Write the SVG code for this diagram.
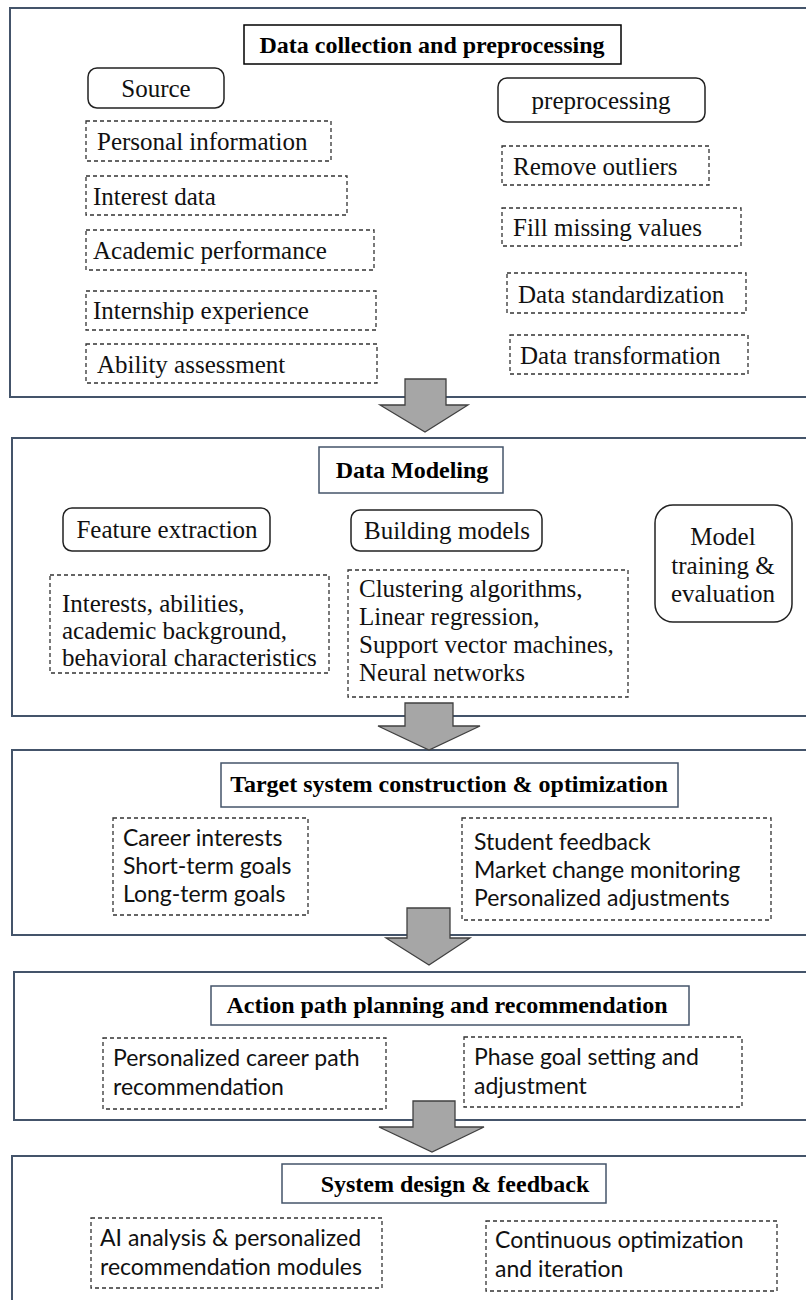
<svg xmlns="http://www.w3.org/2000/svg" width="806" height="1300" viewBox="0 0 806 1300">
<style>
.sec{fill:none;stroke:#44546A;stroke-width:2}
.ttl{fill:#fff;stroke:#44546A;stroke-width:1.5}
.ttl0{fill:#fff;stroke:#000;stroke-width:1.5}
.rnd{fill:#fff;stroke:#222;stroke-width:1.5}
.dsh{fill:#fff;stroke:#333;stroke-width:1.3;stroke-dasharray:4 3}
.arr{fill:#A6A6A6;stroke:#404040;stroke-width:1.3}
.tb{font-family:"Liberation Serif","Times New Roman",serif;font-weight:bold;font-size:24px;fill:#000}
.ts{font-family:"Liberation Serif","Times New Roman",serif;font-size:25px;fill:#111}
.tc{font-family:"Liberation Serif","Times New Roman",serif;font-size:25px;fill:#111;text-anchor:middle}
.tl{font-family:Lato,"Noto Sans",sans-serif;font-size:23px;fill:#111}
.mid{text-anchor:middle}
</style>
<rect width="806" height="1300" fill="#fff"/>

<g id="section1">
<rect class="sec" x="10" y="8" width="810" height="389"/>
<g id="title1"><rect class="ttl0" x="244" y="25" width="377" height="39"/><text class="tb mid" x="432" y="53">Data collection and preprocessing</text></g>
<g id="source"><rect class="rnd" x="88" y="68" width="136" height="40" rx="9"/><text class="tc" x="156" y="97">Source</text></g>
<g id="preprocessing"><rect class="rnd" x="498" y="78" width="207" height="44" rx="9"/><text class="tc" x="601" y="109">preprocessing</text></g>
<g id="n-personal"><rect class="dsh" x="86" y="121" width="245" height="40"/><text class="ts" x="97" y="150">Personal information</text></g>
<g id="n-interest"><rect class="dsh" x="86" y="176" width="261" height="39"/><text class="ts" x="93" y="205">Interest data</text></g>
<g id="n-academic"><rect class="dsh" x="86" y="230" width="288" height="40"/><text class="ts" x="93" y="259">Academic performance</text></g>
<g id="n-internship"><rect class="dsh" x="86" y="291" width="290" height="39"/><text class="ts" x="93" y="319">Internship experience</text></g>
<g id="n-ability"><rect class="dsh" x="86" y="344" width="291" height="39"/><text class="ts" x="97" y="373">Ability assessment</text></g>
<g id="n-outliers"><rect class="dsh" x="502" y="146" width="207" height="39"/><text class="ts" x="513" y="175">Remove outliers</text></g>
<g id="n-fill"><rect class="dsh" x="502" y="208" width="239" height="38"/><text class="ts" x="513" y="236">Fill missing values</text></g>
<g id="n-standard"><rect class="dsh" x="507" y="273" width="239" height="40"/><text class="ts" x="518" y="303">Data standardization</text></g>
<g id="n-transform"><rect class="dsh" x="510" y="335" width="238" height="39"/><text class="ts" x="520" y="364">Data transformation</text></g>
</g>

<g id="section2">
<rect class="sec" x="12" y="438" width="810" height="278"/>
<g id="title2"><rect class="ttl" x="319" y="447" width="184" height="46"/><text class="tb mid" x="412" y="478">Data Modeling</text></g>
<g id="feature"><rect class="rnd" x="63" y="508" width="207" height="43" rx="9"/><text class="tc" x="167" y="538">Feature extraction</text></g>
<g id="building"><rect class="rnd" x="351" y="510" width="191" height="41" rx="9"/><text class="tc" x="447" y="539">Building models</text></g>
<g id="training"><rect class="rnd" x="655" y="505" width="137" height="117" rx="18"/>
<text class="tc" x="723" y="545">Model</text><text class="tc" x="723" y="574">training &amp;</text><text class="tc" x="723" y="602">evaluation</text></g>
<g id="n-features"><rect class="dsh" x="50" y="575" width="279" height="98"/>
<text class="ts" x="62" y="612">Interests, abilities,</text><text class="ts" x="62" y="639">academic background,</text><text class="ts" x="62" y="666">behavioral characteristics</text></g>
<g id="n-models"><rect class="dsh" x="348" y="570" width="280" height="127"/>
<text class="ts" x="359" y="597">Clustering algorithms,</text><text class="ts" x="359" y="625">Linear regression,</text><text class="ts" x="359" y="653">Support vector machines,</text><text class="ts" x="359" y="681">Neural networks</text></g>
</g>

<g id="section3">
<rect class="sec" x="12" y="750" width="810" height="185"/>
<g id="title3"><rect class="ttl" x="221" y="763" width="457" height="44"/><text class="tb mid" x="449" y="792">Target system construction &amp; optimization</text></g>
<g id="n-goals"><rect class="dsh" x="113" y="818" width="195" height="97"/>
<text class="tl" x="123" y="846">Career interests</text><text class="tl" x="123" y="874">Short-term goals</text><text class="tl" x="123" y="902">Long-term goals</text></g>
<g id="n-feedback"><rect class="dsh" x="462" y="818" width="309" height="102"/>
<text class="tl" x="474" y="850">Student feedback</text><text class="tl" x="474" y="878">Market change monitoring</text><text class="tl" x="474" y="906">Personalized adjustments</text></g>
</g>

<g id="section4">
<rect class="sec" x="14" y="972" width="810" height="148"/>
<g id="title4"><rect class="ttl" x="211" y="986" width="478" height="39"/><text class="tb mid" x="447" y="1013">Action path planning and recommendation</text></g>
<g id="n-career"><rect class="dsh" x="103" y="1038" width="283" height="71"/>
<text class="tl" x="113" y="1066">Personalized career path</text><text class="tl" x="113" y="1095">recommendation</text></g>
<g id="n-phase"><rect class="dsh" x="464" y="1037" width="278" height="70"/>
<text class="tl" x="474" y="1065">Phase goal setting and</text><text class="tl" x="474" y="1094">adjustment</text></g>
</g>

<g id="section5">
<rect class="sec" x="12" y="1156" width="810" height="200"/>
<g id="title5"><rect class="ttl" x="282" y="1164" width="324" height="39"/><text class="tb mid" x="455" y="1192">System design &amp; feedback</text></g>
<g id="n-ai"><rect class="dsh" x="91" y="1218" width="291" height="70"/>
<text class="tl" x="100" y="1246">AI analysis &amp; personalized</text><text class="tl" x="100" y="1275">recommendation modules</text></g>
<g id="n-continuous"><rect class="dsh" x="486" y="1221" width="291" height="70"/>
<text class="tl" x="495" y="1248">Continuous optimization</text><text class="tl" x="495" y="1277">and iteration</text></g>
</g>

<g id="connectors">
<polygon class="arr" points="405,379 446,379 446,405 468,405 425,432 380,405 405,405"/>
<polygon class="arr" points="405,703 453,703 453,726 480,726 429,750 378,726 405,726"/>
<polygon class="arr" points="407,908 450,908 450,938 470,938 429,965 386,938 407,938"/>
<polygon class="arr" points="413,1101 455,1101 455,1127 484,1127 432,1152 379,1127 413,1127"/>
</g>
</svg>
